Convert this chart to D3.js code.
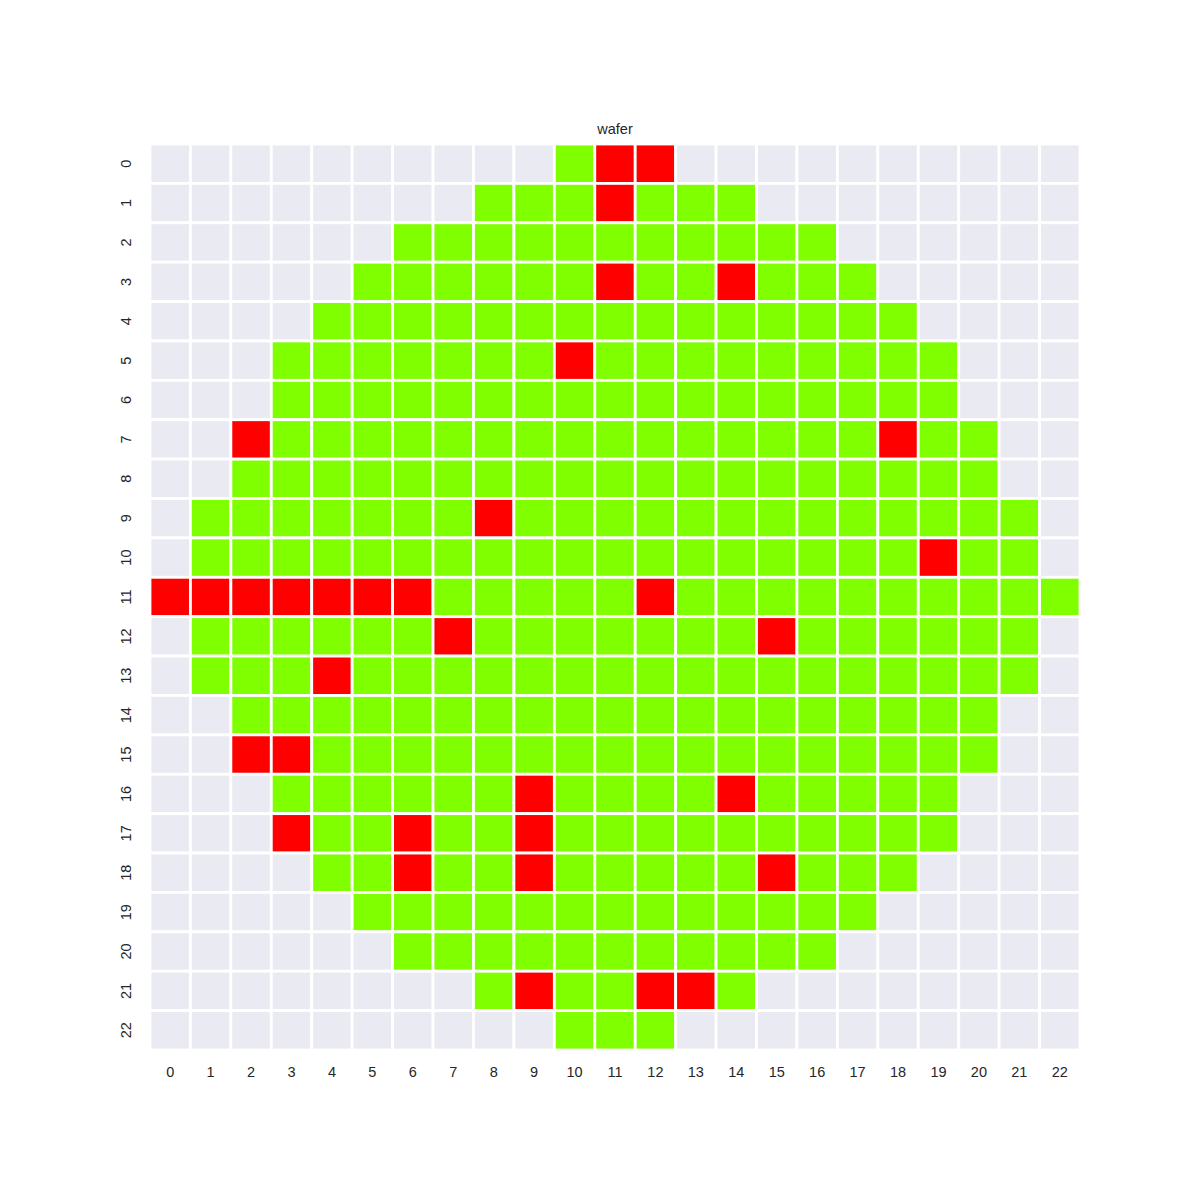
<!DOCTYPE html>
<html>
<head>
<meta charset="utf-8">
<script src="https://cdn.jsdelivr.net/npm/d3@7"></script>
<style>
  html, body { margin: 0; padding: 0; background: #fff; }
  text { font-family: "Liberation Sans", Arial, sans-serif; fill: #262626; }
</style>
</head>
<body>
<svg id="chart" width="1200" height="1200"></svg>
<script>
// 0 = off-wafer, 1 = pass, 2 = fail
const rowLabels = d3.range(23).map(String);
const colLabels = d3.range(23).map(String);
const wafer = [
  [0,0,0,0,0,0,0,0,0,0,1,2,2,0,0,0,0,0,0,0,0,0,0],
  [0,0,0,0,0,0,0,0,1,1,1,2,1,1,1,0,0,0,0,0,0,0,0],
  [0,0,0,0,0,0,1,1,1,1,1,1,1,1,1,1,1,0,0,0,0,0,0],
  [0,0,0,0,0,1,1,1,1,1,1,2,1,1,2,1,1,1,0,0,0,0,0],
  [0,0,0,0,1,1,1,1,1,1,1,1,1,1,1,1,1,1,1,0,0,0,0],
  [0,0,0,1,1,1,1,1,1,1,2,1,1,1,1,1,1,1,1,1,0,0,0],
  [0,0,0,1,1,1,1,1,1,1,1,1,1,1,1,1,1,1,1,1,0,0,0],
  [0,0,2,1,1,1,1,1,1,1,1,1,1,1,1,1,1,1,2,1,1,0,0],
  [0,0,1,1,1,1,1,1,1,1,1,1,1,1,1,1,1,1,1,1,1,0,0],
  [0,1,1,1,1,1,1,1,2,1,1,1,1,1,1,1,1,1,1,1,1,1,0],
  [0,1,1,1,1,1,1,1,1,1,1,1,1,1,1,1,1,1,1,2,1,1,0],
  [2,2,2,2,2,2,2,1,1,1,1,1,2,1,1,1,1,1,1,1,1,1,1],
  [0,1,1,1,1,1,1,2,1,1,1,1,1,1,1,2,1,1,1,1,1,1,0],
  [0,1,1,1,2,1,1,1,1,1,1,1,1,1,1,1,1,1,1,1,1,1,0],
  [0,0,1,1,1,1,1,1,1,1,1,1,1,1,1,1,1,1,1,1,1,0,0],
  [0,0,2,2,1,1,1,1,1,1,1,1,1,1,1,1,1,1,1,1,1,0,0],
  [0,0,0,1,1,1,1,1,1,2,1,1,1,1,2,1,1,1,1,1,0,0,0],
  [0,0,0,2,1,1,2,1,1,2,1,1,1,1,1,1,1,1,1,1,0,0,0],
  [0,0,0,0,1,1,2,1,1,2,1,1,1,1,1,2,1,1,1,0,0,0,0],
  [0,0,0,0,0,1,1,1,1,1,1,1,1,1,1,1,1,1,0,0,0,0,0],
  [0,0,0,0,0,0,1,1,1,1,1,1,1,1,1,1,1,0,0,0,0,0,0],
  [0,0,0,0,0,0,0,0,1,2,1,1,2,2,1,0,0,0,0,0,0,0,0],
  [0,0,0,0,0,0,0,0,0,0,1,1,1,0,0,0,0,0,0,0,0,0,0]
];
const stateColors = ["#eaeaf2", "#7fff00", "#ff0000"];
const title = "wafer";

const svg = d3.select("#chart");
const margin = {left: 150, right: 120, top: 144, bottom: 150};
const W = 1200, H = 1200;
const x = d3.scaleBand().domain(colLabels).range([margin.left, W - margin.right]);
const y = d3.scaleBand().domain(rowLabels).range([margin.top, H - margin.bottom]);
const color = d3.scaleOrdinal().domain([0,1,2]).range(stateColors);

const cells = [];
wafer.forEach((row, r) => row.forEach((v, c) => cells.push({r, c, v})));

svg.append("g").selectAll("rect").data(cells).join("rect")
  .attr("x", d => x(colLabels[d.c]))
  .attr("y", d => y(rowLabels[d.r]))
  .attr("width", x.bandwidth())
  .attr("height", y.bandwidth())
  .attr("fill", d => color(d.v))
  .attr("stroke", "#ffffff")
  .attr("stroke-width", 2.8);

const tickFont = "14.5px";

// x axis
const xAxis = svg.append("g")
  .attr("transform", `translate(0,${H - margin.bottom})`)
  .call(d3.axisBottom(x).tickSize(0).tickPadding(17));
xAxis.select(".domain").remove();
xAxis.selectAll("text").style("font-size", tickFont).style("font-family", "Liberation Sans, Arial, sans-serif").attr("fill", "#262626");

// y axis
const yAxis = svg.append("g")
  .attr("transform", `translate(${margin.left},0)`)
  .call(d3.axisLeft(y).tickSize(0).tickPadding(0));
yAxis.select(".domain").remove();
yAxis.selectAll(".tick text")
  .attr("x", 0).attr("dy", null)
  .attr("text-anchor", "middle")
  .attr("transform", "translate(-24,0) rotate(-90)")
  .attr("dominant-baseline", "central")
  .style("font-size", tickFont).style("font-family", "Liberation Sans, Arial, sans-serif").attr("fill", "#262626");

// title
svg.append("text")
  .attr("x", (margin.left + W - margin.right) / 2)
  .attr("y", margin.top - 10.5)
  .attr("text-anchor", "middle")
  .style("font-size", "14.5px")
  .text(title);
</script>
</body>
</html>
